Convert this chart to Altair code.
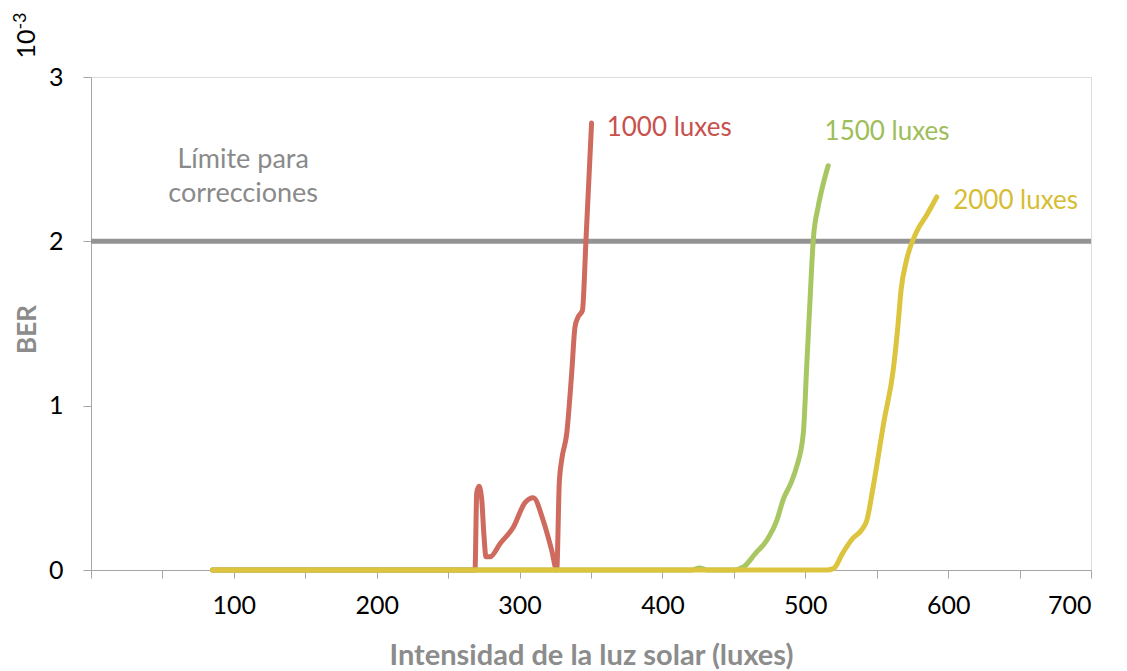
import altair as alt
import pandas as pd

# Series data (x in luxes, BER in units of 1e-3)
red_x = [85, 150, 200, 250, 268.8, 270, 271.6, 273.5, 275, 276.5, 279.3, 286.3, 295.6, 303.8, 309.6,
         316.6, 322.5, 326, 327.8, 329.5, 333, 336.5, 338.8, 341, 344, 346.5, 350.4]
red_y = [0, 0, 0, 0, 0, 0.47, 0.51, 0.43, 0.22, 0.08, 0.08, 0.16, 0.26, 0.41, 0.44,
         0.30, 0.12, 0.0, 0.53, 0.67, 0.83, 1.2, 1.48, 1.54, 1.58, 2.01, 2.72]

green_x = [85, 200, 300, 400, 420, 426, 432, 450, 457, 465, 473, 480, 484.6, 490, 494, 498.6,
           501, 503.3, 505.6, 509, 512, 516]
green_y = [0, 0, 0, 0, 0, 0.012, 0, 0, 0.02, 0.1, 0.18, 0.3, 0.43, 0.53, 0.63, 0.83,
           1.24, 1.64, 2.01, 2.21, 2.33, 2.46]

yellow_x = [85, 200, 300, 400, 500, 515, 520, 526, 533, 540, 543, 547.6, 555, 561.6, 565, 567,
            571, 578, 585, 592]
yellow_y = [0, 0, 0, 0, 0, 0, 0.01, 0.1, 0.19, 0.25, 0.3, 0.51, 0.9, 1.22, 1.5, 1.7,
            1.89, 2.06, 2.16, 2.27]

series_names = ["1000 luxes", "1500 luxes", "2000 luxes"]
series_colors = ["#CF6A5E", "#A8C763", "#DCC43F"]
label_colors = ["#C8514D", "#9DBD59", "#D6BD33"]

limit_value = 2
x_ticks = [0, 50, 100, 150, 200, 250, 300, 350, 400, 450, 500, 550, 600, 650, 700]
y_ticks = [0, 1, 2, 3]

# Annotation positions (data coordinates)
label_x = [361, 513.5, 603.5]
label_y = [2.69, 2.665, 2.245]
limit_text = ["Límite para", "correcciones"]
limit_text_x = [106.5, 106.5]
limit_text_y = [2.495, 2.29]

rows = []
for name, xs, ys in zip(series_names, [red_x, green_x, yellow_x], [red_y, green_y, yellow_y]):
    for i, (a, b) in enumerate(zip(xs, ys)):
        rows.append({"serie": name, "x": a, "y": b, "i": i})
df = pd.DataFrame(rows)

limit_df = pd.DataFrame({"x": [0], "x2": [700], "y": [limit_value]})
labels_df = pd.DataFrame({"serie": series_names, "x": label_x, "y": label_y})
limit_lbl_df = pd.DataFrame({"t": limit_text, "x": limit_text_x, "y": limit_text_y})

FONT = "Lato"

xscale = alt.Scale(domain=[0, 700], nice=False, zero=False)
yscale = alt.Scale(domain=[0, 3], nice=False)

base_x = alt.X("x:Q", scale=xscale,
               axis=alt.Axis(values=x_ticks, title="Intensidad de la luz solar (luxes)",
                             labelExpr="datum.value % 100 == 0 && datum.value > 0 ? datum.label : ''",
                             grid=False, labelFontSize=25, labelColor="#000000", labelFont=FONT,
                             labelPadding=15, tickSize=8, tickColor="#A6A6A6", domainColor="#A6A6A6",
                             titleFont=FONT, titleFontSize=29, titleFontWeight="bold",
                             titleColor="#8C8C8C", titleY=85, titleBaseline="middle"))
base_y = alt.Y("y:Q", scale=yscale,
               axis=alt.Axis(values=y_ticks, format="d", title="BER", grid=False, labelFontSize=25,
                             labelColor="#000000", labelFont=FONT, labelPadding=20, tickSize=8,
                             tickColor="#A6A6A6", domainColor="#A6A6A6", titleFont=FONT,
                             titleFontSize=26, titleFontWeight="bold", titleColor="#8C8C8C",
                             titleX=-64, titleY=252, titleAngle=270, titleAlign="center",
                             titleBaseline="middle"))

limit_rule = alt.Chart(limit_df).mark_rule(color="#939393", strokeWidth=5).encode(
    x=alt.X("x:Q", scale=xscale), x2="x2:Q", y=alt.Y("y:Q", scale=yscale))

lines = alt.Chart(df).mark_line(strokeWidth=5, interpolate="monotone", strokeCap="round").encode(
    x=base_x, y=base_y,
    color=alt.Color("serie:N", scale=alt.Scale(domain=series_names, range=series_colors), legend=None),
    order="i:Q",
)

series_labels = alt.Chart(labels_df).mark_text(align="left", baseline="middle", font=FONT,
                                               fontSize=26).encode(
    x=alt.X("x:Q", scale=xscale), y=alt.Y("y:Q", scale=yscale), text="serie:N",
    color=alt.Color("serie:N", scale=alt.Scale(domain=series_names, range=label_colors), legend=None))

limit_labels = alt.Chart(limit_lbl_df).mark_text(align="center", baseline="middle", font=FONT,
                                                 fontSize=27, color="#8A8A8A").encode(
    x=alt.X("x:Q", scale=xscale), y=alt.Y("y:Q", scale=yscale), text="t:N")

exp_base = alt.Chart(pd.DataFrame({"t": ["10"]})).mark_text(
    angle=270, align="center", baseline="middle", font=FONT, fontSize=25, color="#000000").encode(
    x=alt.value(-64), y=alt.value(-33), text="t:N")
exp_sup = alt.Chart(pd.DataFrame({"t": ["-3"]})).mark_text(
    angle=270, align="center", baseline="middle", font=FONT, fontSize=18, color="#000000").encode(
    x=alt.value(-70), y=alt.value(-56), text="t:N")

chart = alt.layer(limit_rule, lines, series_labels, limit_labels, exp_base, exp_sup).resolve_scale(
    color="independent").properties(
    width=1000, height=493,
    autosize=alt.AutoSizeParams(type="none"),
    padding={"left": 83, "top": 69, "right": 20, "bottom": 100},
).configure_view(stroke=None).configure(background="white")

chart.save("out.html", embed_options={"renderer": "svg", "actions": False})
